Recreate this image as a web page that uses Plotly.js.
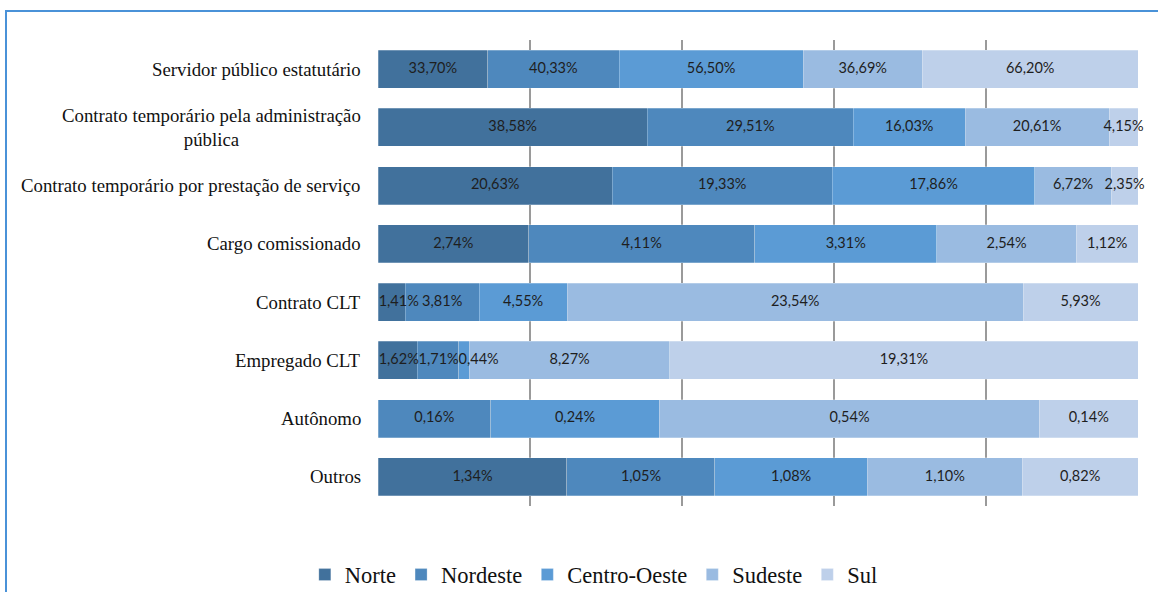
<!DOCTYPE html>
<html>
<head>
<meta charset="utf-8">
<script src="https://cdn.plot.ly/plotly-3.0.1.min.js"></script>
<style>
  html, body { margin: 0; padding: 0; background: #fff; }
  #wrap { position: relative; width: 1158px; height: 592px; overflow: hidden; }
  #chart { position: absolute; left: 0; top: 0; width: 1158px; height: 592px; }
  #frame { position: absolute; left: 5px; top: 10px; width: 1200px; height: 700px;
           border-top: 2px solid #4a92d8; border-left: 2px solid #4a92d8; pointer-events: none; }
</style>
</head>
<body>
<div id="wrap">
  <div id="chart"></div>
  <div id="frame"></div>
</div>
<script>
const categories = [
  "Servidor público estatutário",
  "Contrato temporário pela administração<br>pública",
  "Contrato temporário por prestação de serviço",
  "Cargo comissionado",
  "Contrato CLT",
  "Empregado CLT",
  "Autônomo",
  "Outros"
];
const seriesNames = ["Norte", "Nordeste", "Centro-Oeste", "Sudeste", "Sul"];
const norte       = [33.70, 38.58, 20.63, 2.74, 1.41, 1.62, null, 1.34];
const nordeste    = [40.33, 29.51, 19.33, 4.11, 3.81, 1.71, 0.16, 1.05];
const centroOeste = [56.50, 16.03, 17.86, 3.31, 4.55, 0.44, 0.24, 1.08];
const sudeste     = [36.69, 20.61, 6.72, 2.54, 23.54, 8.27, 0.54, 1.10];
const sul         = [66.20, 4.15, 2.35, 1.12, 5.93, 19.31, 0.14, 0.82];
const colors = ["#41719c", "#4e88bd", "#5b9bd5", "#9abbe1", "#bed0ea"];

const series = [norte, nordeste, centroOeste, sudeste, sul];
const fmt = v => (v === null || v === 0) ? "" : v.toFixed(2).replace(".", ",") + "%";

const traces = series.map((vals, i) => ({
  type: "bar",
  orientation: "h",
  name: seriesNames[i],
  y: categories,
  x: vals,
  marker: { color: colors[i], line: { color: "rgba(255,255,255,0.5)", width: 0.5 } },
  hoverinfo: "none"
}));

// label positions: centres of each normalised segment, nudged right where labels would collide
const LABEL_SIZE = 14.5;
const PX_PER_UNIT = 7.6;  // approx pixels per percent of the plot width
const estW = s => s.length * 0.53 * LABEL_SIZE;
const lx = [], ly = [], lt = [];
categories.forEach((c, r) => {
  const total = series.reduce((s, arr) => s + (arr[r] || 0), 0);
  let cum = 0;
  let prevRight = 0;
  series.forEach(arr => {
    const v = arr[r] || 0;
    if (v > 0) {
      const t = fmt(v);
      const halfW = estW(t) / 2 / PX_PER_UNIT;
      let cx = (cum + v / 2) / total * 100;
      const minLeft = prevRight + 0.2;
      if (cx - halfW < minLeft) cx = minLeft + halfW;
      prevRight = cx + halfW;
      lx.push(cx);
      ly.push(c);
      lt.push(t);
    }
    cum += v;
  });
});
traces.push({
  type: "scatter",
  mode: "text",
  x: lx, y: ly, text: lt,
  textposition: "middle center",
  textfont: { family: "Lato", size: LABEL_SIZE, color: "#1e1e1e" },
  showlegend: false,
  hoverinfo: "none",
  cliponaxis: false
});

const annotations = categories.map(c => ({
  xref: "paper", yref: "y",
  x: 0, y: c,
  xanchor: "right", yanchor: "middle",
  xshift: -15,
  align: "center",
  text: c,
  showarrow: false,
  font: { family: "Liberation Serif", size: 18.8, color: "#111" }
}));

const layout = {
  width: 1158, height: 592,
  margin: { l: 378, r: 20, t: 40, b: 86, pad: 0, autoexpand: false },
  paper_bgcolor: "rgba(0,0,0,0)",
  plot_bgcolor: "rgba(0,0,0,0)",
  barmode: "stack",
  barnorm: "percent",
  bargap: 0.348,
  xaxis: {
    range: [0, 100], dtick: 20, tick0: 0,
    showticklabels: false, ticks: "",
    showgrid: true, gridcolor: "#9a9a9a", gridwidth: 1.5,
    zeroline: false, showline: false, fixedrange: true
  },
  yaxis: {
    type: "category",
    autorange: "reversed",
    showticklabels: false, ticks: "",
    showgrid: false, zeroline: false, showline: false, fixedrange: true
  },
  showlegend: true,
  legend: {
    orientation: "h",
    x: 0.284, xanchor: "center",
    y: -0.148, yanchor: "middle",
    font: { family: "Liberation Serif", size: 22.5, color: "#111" },
    itemwidth: 30,
    traceorder: "normal"
  },
  annotations: annotations
};

Plotly.newPlot("chart", traces, layout, { displayModeBar: false, staticPlot: true });
</script>
</body>
</html>
